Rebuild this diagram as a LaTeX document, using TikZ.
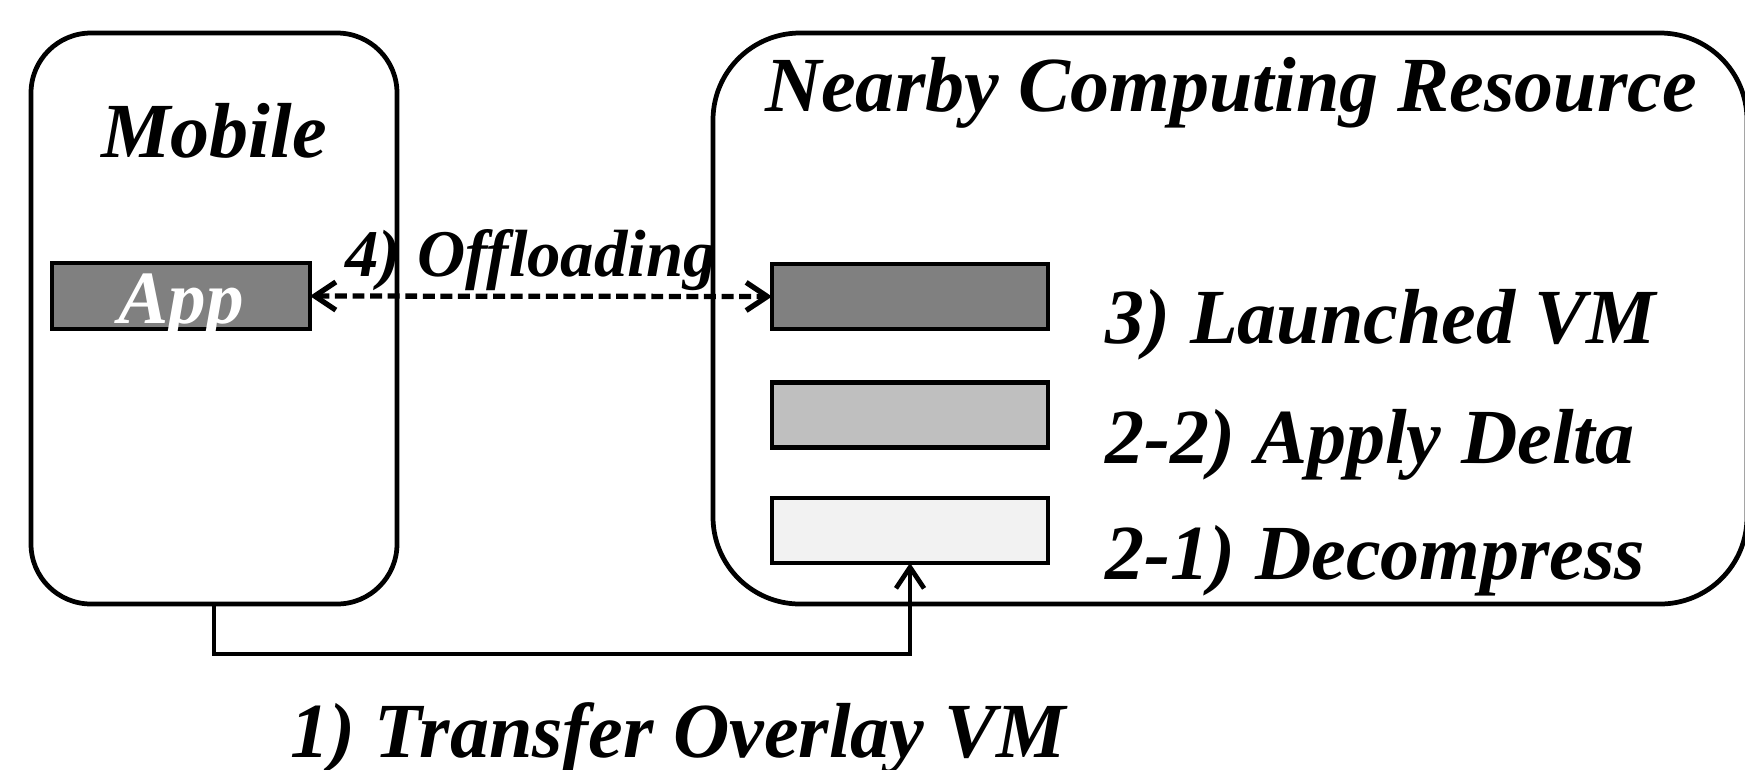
\documentclass[tikz,border=0pt]{standalone}
\usepackage{fontspec}
\setmainfont{Liberation Serif}
\usetikzlibrary{arrows.meta,positioning}

\begin{document}
\begin{tikzpicture}[x=0.1mm,y=-0.1mm,
    >={Straight Barb[length=6pt,width=8pt]},
    box/.style={draw,line width=1.35pt,inner sep=0pt,outer sep=0pt},
    vmbox/.style={box,minimum width=27.6mm,minimum height=6.5mm},
    big/.style={font=\fontsize{22.2}{26}\selectfont\bfseries\itshape,inner sep=0pt},
    link/.style={line width=1.35pt}]
  \useasboundingbox (0,0) rectangle (1745,769);

  % mobile
  \node[box,rounded corners=6mm,minimum width=36.6mm,minimum height=57.1mm] (mobile) at (214,318.5) {};
  \node[big,anchor=base] (mobiletxt) at (214,157) {Mobile};
  \node[box,fill=black!50,minimum width=25.8mm,minimum height=6.6mm,text height=5.4mm,text depth=0pt,
        text=white,font=\fontsize{21.4}{24}\selectfont\bfseries\itshape] (app) at (181,296) {App};

  % nearby computing resource
  \node[box,rounded corners=8.7mm,minimum width=103.4mm,minimum height=57.1mm] (nearby) at (1230,318.5) {};
  \node[big,anchor=base] (nearbytxt) at (1231,111) {Nearby Computing Resource};
  \node[vmbox,fill=black!50] (launch) at (910,296.5) {};
  \node[vmbox,fill=black!25] (delta) at (910,415) {};
  \node[vmbox,fill=black!5] (decomp) at (910,530.5) {};
  \node[big,anchor=base west] (launchtxt) at (1105,343) {3) Launched VM};
  \node[big,anchor=base west] (deltatxt) at (1105,463) {2-2) Apply Delta};
  \node[big,anchor=base west] (decomptxt) at (1105,579) {2-1) Decompress};

  % offloading
  \draw[link,line width=1.5pt,<->,dash pattern=on 3.4pt off 1.6pt] (app.east) -- (launch.west);
  \node[anchor=base,inner sep=0pt,font=\fontsize{19}{22}\selectfont\bfseries\itshape] (offtxt) at (531,276) {4) Offloading};

  % transfer
  \coordinate (turn) at (214,654);
  \draw[link,->] (mobile.south) -- (turn) -| (decomp.south);
  \node[big,anchor=base] (transtxt) at (678,757) {1) Transfer Overlay VM};
\end{tikzpicture}
\end{document}
